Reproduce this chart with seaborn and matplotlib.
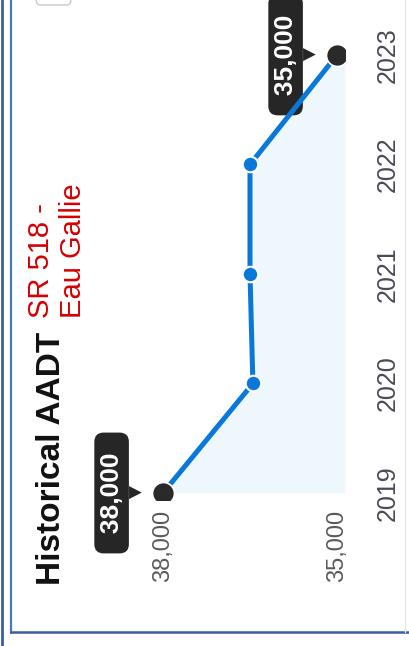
import matplotlib
matplotlib.use('Agg')
import matplotlib.pyplot as plt
import seaborn as sns
import pandas as pd
from matplotlib.lines import Line2D
from matplotlib.patches import FancyBboxPatch

years = [2019, 2020, 2021, 2022, 2023]
aadt = [38000, 36450, 36500, 36500, 35000]
value_ticks = [38000, 35000]
title = 'Historical AADT'
subtitle = 'SR 518 -\nEau Gallie'

sns.set_theme(style='white')
plt.rcParams['font.family'] = ['Liberation Sans', 'DejaVu Sans']

W, H = 409, 646
fig = plt.figure(figsize=(W / 100, H / 100), dpi=100)
fig.patch.set_facecolor('white')

# axes laid on its side: values run left->right (high to low), years bottom->top
ax = fig.add_axes([80 / W, 146 / H, 265 / W, 460 / H])
ax.set_facecolor('white')
xlo, xhi = 39431, 34862
ax.set_xlim(xlo, xhi)
ax.set_ylim(2018.936, 2023.137)

df = pd.DataFrame({'year': years, 'aadt': aadt})

ax.fill_betweenx(df['year'], df['aadt'], xhi, color='#eef8fc', lw=0, zorder=1)
sns.lineplot(data=df, x='aadt', y='year', orient='y', sort=False,
             color='#0a78d8', lw=3.6, ax=ax, zorder=4)

ends = df.iloc[[0, -1]]
mids = df.iloc[1:-1]
sns.scatterplot(data=mids, x='aadt', y='year', s=125, color='#0a78d8',
                edgecolor='white', linewidth=1.5, ax=ax, zorder=5)
sns.scatterplot(data=ends, x='aadt', y='year', s=250, color='#2a2a2a',
                edgecolor='white', linewidth=1.2, ax=ax, zorder=5)

# dark callouts on first and last point
for _, r in ends.iterrows():
    ax.annotate(f"  {int(r['aadt']):,}  ", xy=(r['aadt'], r['year']),
                xytext=(-37, 0), textcoords='offset points', rotation=90,
                ha='center', va='center', color='white', fontweight='bold',
                fontsize=19, zorder=2,
                bbox=dict(boxstyle='round,pad=0.2,rounding_size=0.35',
                          fc='#262626', ec='none'))
    ax.annotate('\u25B6', xy=(r['aadt'], r['year']), xytext=(-20, 0),
                textcoords='offset points', ha='center', va='center',
                color='#262626', fontsize=12, family='DejaVu Sans', zorder=2)

ax.set_xticks(value_ticks)
ax.set_xticklabels([f'{v:,}' for v in value_ticks], rotation=90, va='top')
ax.set_yticks(years)
ax.set_yticklabels([str(y) for y in years], rotation=90, va='center')
ax.yaxis.tick_right()
ax.tick_params(axis='x', length=0, pad=7, labelsize=17, labelcolor='#5a5a5a')
ax.tick_params(axis='y', length=0, pad=22, labelsize=18, labelcolor='#4a4a58')
ax.set_xlabel('')
ax.set_ylabel('')
sns.despine(ax=ax, left=True, bottom=True, top=True, right=True)
ax.grid(False)

fig.text(52 / W, 1 - 585 / H, title, rotation=90, rotation_mode='anchor',
         ha='left', va='center', fontsize=24, fontweight='bold', color='#111111')
fig.text(57 / W, 1 - 318 / H, subtitle, rotation=90, rotation_mode='anchor',
         ha='left', va='center', fontsize=21, color='#d40000', linespacing=1.15)

# panel frame
def fline(x0, y0, x1, y1, c, lw):
    fig.add_artist(Line2D([x0 / W, x1 / W], [1 - y0 / H, 1 - y1 / H],
                          transform=fig.transFigure, color=c, lw=lw))

fline(1.5, 0, 1.5, 646, '#3f5f9c', 2)
fline(11, 0, 11, 633, '#4a76c0', 1.6)
fline(11, 632, 409, 632, '#3b5f9f', 1.8)
fline(405, 0, 405, 632, '#e2e6ee', 1)
fig.add_artist(FancyBboxPatch((36 / W, 1 - 5 / H), 35 / W, 12 / H,
                              boxstyle='round,pad=0,rounding_size=0.01',
                              transform=fig.transFigure, fc='white',
                              ec='#c8c8c8', lw=1))

fig.savefig('out.png', dpi=100)
